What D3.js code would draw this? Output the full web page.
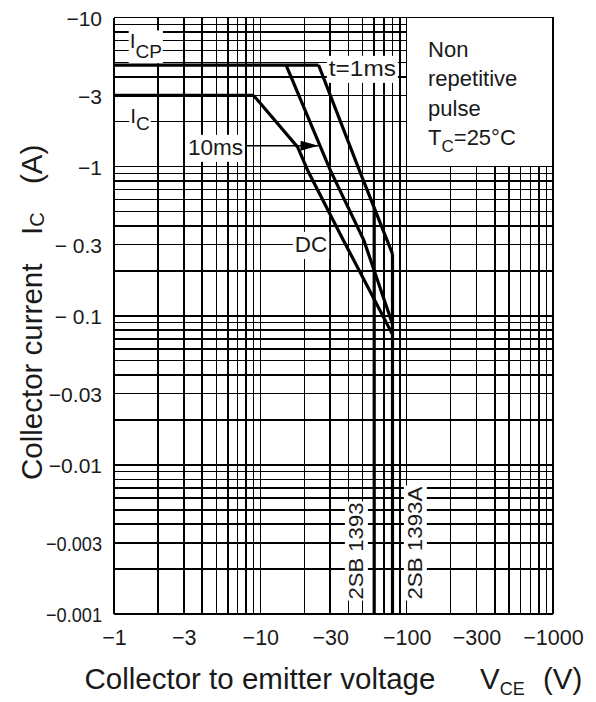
<!DOCTYPE html>
<html>
<head>
<meta charset="utf-8">
<script src="https://cdn.jsdelivr.net/npm/d3@7"></script>
<style>
  html, body { margin: 0; padding: 0; background: #fff; }
  svg text { font-family: "Liberation Sans", Arial, Helvetica, sans-serif; fill: #1a1a1a; }
</style>
</head>
<body>
<div id="chart"></div>
<script>
// tick values are magnitudes, the printed labels carry the minus sign
const xTicks = [1, 3, 10, 30, 100, 300, 1000];
const xTickLabels = ['−1', '−3', '−10', '−30', '−100', '−300', '−1000'];
const yTicks = [10, 3, 1, 0.3, 0.1, 0.03, 0.01, 0.003, 0.001];
const yTickLabels = ['−10', '−3', '−1', '− 0.3', '− 0.1', '−0.03', '−0.01', '−0.003', '−0.001'];

// safe operating area boundaries, [|VCE| (V), |IC| (A)]
const icpLimit = [[1, 4.8], [25, 4.8]];
const icLimit = [[1, 3], [9, 3]];
const dcCurve = [[9, 3], [18, 1.35], [21, 0.95], [37, 0.32], [80, 0.075]];
const pulse10ms = [[15, 4.8], [30, 0.95], [51, 0.32], [80, 0.088]];
const pulse1ms = [[25, 4.8], [47, 0.97], [80, 0.26]];
const vceo1393 = [[60, 0.53], [60, 0.001]];
const vceo1393A = [[80, 0.26], [80, 0.001]];

// where the annotations sit, in data units
const labelICP = [1.28, 6.2];
const labelIC = [1.29, 1.96];
const label10ms = [3.2, 1.2];
const leader10ms = [25, 1.38];
const label1ms = [29.4, 4.06];
const labelDC = [17.2, 0.268];
const label1393 = [50.2, 0.00125];
const label1393A = [127, 0.00125];
const noteAnchor = [140, 10];
const noteLines = ['Non', 'repetitive', 'pulse'];

drawChart();

function drawChart() {
  const w = 596;
  const h = 702;

  const svg = d3.select('#chart').append('svg')
      .attr('width', w)
      .attr('height', h);

  // log scales, both axes
  const xScale = d3.scaleLog().domain([1, 1000]).range([114, 553]);
  const yScale = d3.scaleLog().domain([10, 0.001]).range([17.5, 614]);

  // full log grid (1..9 in each decade)
  const grid = svg.append('g')
      .attr('stroke', '#000')
      .attr('stroke-width', 1.5)
      .attr('shape-rendering', 'crispEdges');

  grid.selectAll('.vgrid')
      .data(xScale.ticks())
      .enter()
      .append('line')
      .attr('class', 'vgrid')
      .attr('x1', (d) => xScale(d))
      .attr('x2', (d) => xScale(d))
      .attr('y1', yScale(10))
      .attr('y2', yScale(0.001));

  grid.selectAll('.hgrid')
      .data(yScale.ticks())
      .enter()
      .append('line')
      .attr('class', 'hgrid')
      .attr('x1', xScale(1))
      .attr('x2', xScale(1000))
      .attr('y1', (d) => yScale(d))
      .attr('y2', (d) => yScale(d));

  // note box in the upper right corner hides the grid
  svg.append('rect')
      .attr('x', xScale(100))
      .attr('y', yScale(10))
      .attr('width', xScale(1000) - xScale(100))
      .attr('height', yScale(1) - yScale(10))
      .attr('fill', '#fff')
      .attr('stroke', '#000')
      .attr('stroke-width', 1.5)
      .attr('shape-rendering', 'crispEdges');

  const note = svg.append('text')
      .attr('font-size', 22);
  noteLines.forEach((line, k) => {
    note.append('tspan')
        .attr('x', xScale(noteAnchor[0]))
        .attr('y', yScale(noteAnchor[1]) + 39.5 + k * 29.3)
        .text(line);
  });
  note.append('tspan')
      .attr('x', xScale(noteAnchor[0]))
      .attr('y', yScale(noteAnchor[1]) + 39.5 + 3 * 29.3)
      .text('T');
  note.append('tspan').attr('font-size', 17).attr('dy', 7).text('C');
  note.append('tspan').attr('dy', -7).text('=25°C');

  // labels sitting on white patches over the grid
  const labels = svg.append('g');

  boxedLabel(labels, labelICP, (t) => {
    t.append('tspan').text('I');
    t.append('tspan').attr('font-size', 19).attr('dy', 10).text('CP');
  }, 1);

  boxedLabel(labels, labelIC, (t) => {
    t.append('tspan').text('I');
    t.append('tspan').attr('font-size', 19).attr('dy', 7).text('C');
  }, 1);

  const box10 = boxedLabel(labels, label10ms, (t) => {
    t.attr('font-size', 22.5).text('10ms');
  }, 2);

  boxedLabel(labels, label1ms, (t) => {
    t.attr('font-size', 22.5)
        .text('t=1ms')
        .attr('textLength', 67)
        .attr('lengthAdjust', 'spacingAndGlyphs');
  }, 2);

  boxedLabel(labels, labelDC, (t) => {
    t.attr('font-size', 22.5).text('DC');
  }, 2);

  boxedLabel(labels, label1393, (t) => {
    t.text('2SB 1393')
        .attr('textLength', 97)
        .attr('lengthAdjust', 'spacingAndGlyphs');
  }, 1, true);

  boxedLabel(labels, label1393A, (t) => {
    t.text('2SB 1393A')
        .attr('textLength', 113)
        .attr('lengthAdjust', 'spacingAndGlyphs');
  }, 1, true);

  // leader from the 10ms label to its curve, with arrow head
  const lx = xScale(leader10ms[0]);
  const ly = yScale(leader10ms[1]);
  svg.append('line')
      .attr('x1', box10.x + box10.width)
      .attr('x2', lx)
      .attr('y1', ly)
      .attr('y2', ly)
      .attr('stroke', '#000')
      .attr('stroke-width', 1.5);
  svg.append('path')
      .attr('d', `M${lx},${ly} L${lx - 18},${ly - 5} L${lx - 18},${ly + 5} Z`)
      .attr('fill', '#000');

  // SOA boundary lines
  const line = d3.line()
      .x((d) => xScale(d[0]))
      .y((d) => yScale(d[1]));

  const limits = [icpLimit, icLimit, dcCurve, pulse10ms, pulse1ms, vceo1393, vceo1393A];
  svg.append('g')
      .selectAll('path')
      .data(limits)
      .enter()
      .append('path')
      .attr('d', line)
      .attr('fill', 'none')
      .attr('stroke', '#000')
      .attr('stroke-width', 3.2);

  // axes: only the labels, the grid is the frame
  const xAxis = d3.axisBottom(xScale)
      .tickValues(xTicks)
      .tickFormat((d) => xTickLabels[xTicks.indexOf(d)])
      .tickSize(0)
      .tickPadding(16);

  const gx = svg.append('g')
      .attr('transform', 'translate(0,' + yScale(0.001) + ')')
      .call(xAxis);
  gx.select('.domain').remove();
  gx.attr('font-family', null);
  gx.selectAll('text')
      .attr('font-size', 21.5)
      .attr('fill', null);

  const yAxis = d3.axisLeft(yScale)
      .tickValues(yTicks)
      .tickFormat((d) => yTickLabels[yTicks.indexOf(d)])
      .tickSize(0)
      .tickPadding(12);

  const gy = svg.append('g')
      .attr('transform', 'translate(' + xScale(1) + ',0)')
      .call(yAxis);
  gy.select('.domain').remove();
  gy.attr('font-family', null);
  gy.selectAll('text')
      .attr('font-size', 21)
      .attr('fill', null)
      .attr('dy', '0.38em')
      .each(function() {
        // the long labels are squeezed in the original
        if (this.getComputedTextLength() > 56) {
          d3.select(this)
              .attr('textLength', 56)
              .attr('lengthAdjust', 'spacingAndGlyphs');
        }
      });

  // axis titles
  const xTitle = svg.append('text')
      .attr('font-size', 29.5)
      .attr('x', 84.5)
      .attr('y', 689);
  xTitle.append('tspan').text('Collector to emitter voltage');
  xTitle.append('tspan').attr('x', 480).text('V');
  xTitle.append('tspan').attr('font-size', 18).attr('dy', 6).text('CE');
  xTitle.append('tspan').attr('x', 543).attr('dy', -6).text('(V)');

  const yTitle = svg.append('text')
      .attr('font-size', 29.5)
      .attr('transform', 'translate(41.5,480) rotate(-90)');
  yTitle.append('tspan').attr('x', 0).text('Collector current');
  yTitle.append('tspan').attr('x', 245).text('I');
  yTitle.append('tspan').attr('font-size', 20).attr('dy', 2).text('C');
  yTitle.append('tspan').attr('x', 296).attr('dy', -2).text('(A)');

  // text label on a white patch; returns the patch box in page coords
  function boxedLabel(parent, pos, build, pad, vertical) {
    const g = parent.append('g');
    const bg = g.append('rect').attr('fill', '#fff');
    const t = g.append('text').attr('font-size', 21);
    if (vertical) {
      g.attr('transform', 'translate(' + xScale(pos[0]) + ',' + yScale(pos[1]) + ') rotate(-90)');
      t.attr('x', 0).attr('y', 0);
    } else {
      t.attr('x', xScale(pos[0])).attr('y', yScale(pos[1]));
    }
    build(t);
    const b = t.node().getBBox();
    const box = {x: b.x - pad, y: b.y + 2 - pad, width: b.width + 2 * pad, height: b.height - 2 + 2 * pad};
    bg.attr('x', box.x)
        .attr('y', box.y)
        .attr('width', box.width)
        .attr('height', box.height);
    return box;
  }
}
</script>
</body>
</html>
